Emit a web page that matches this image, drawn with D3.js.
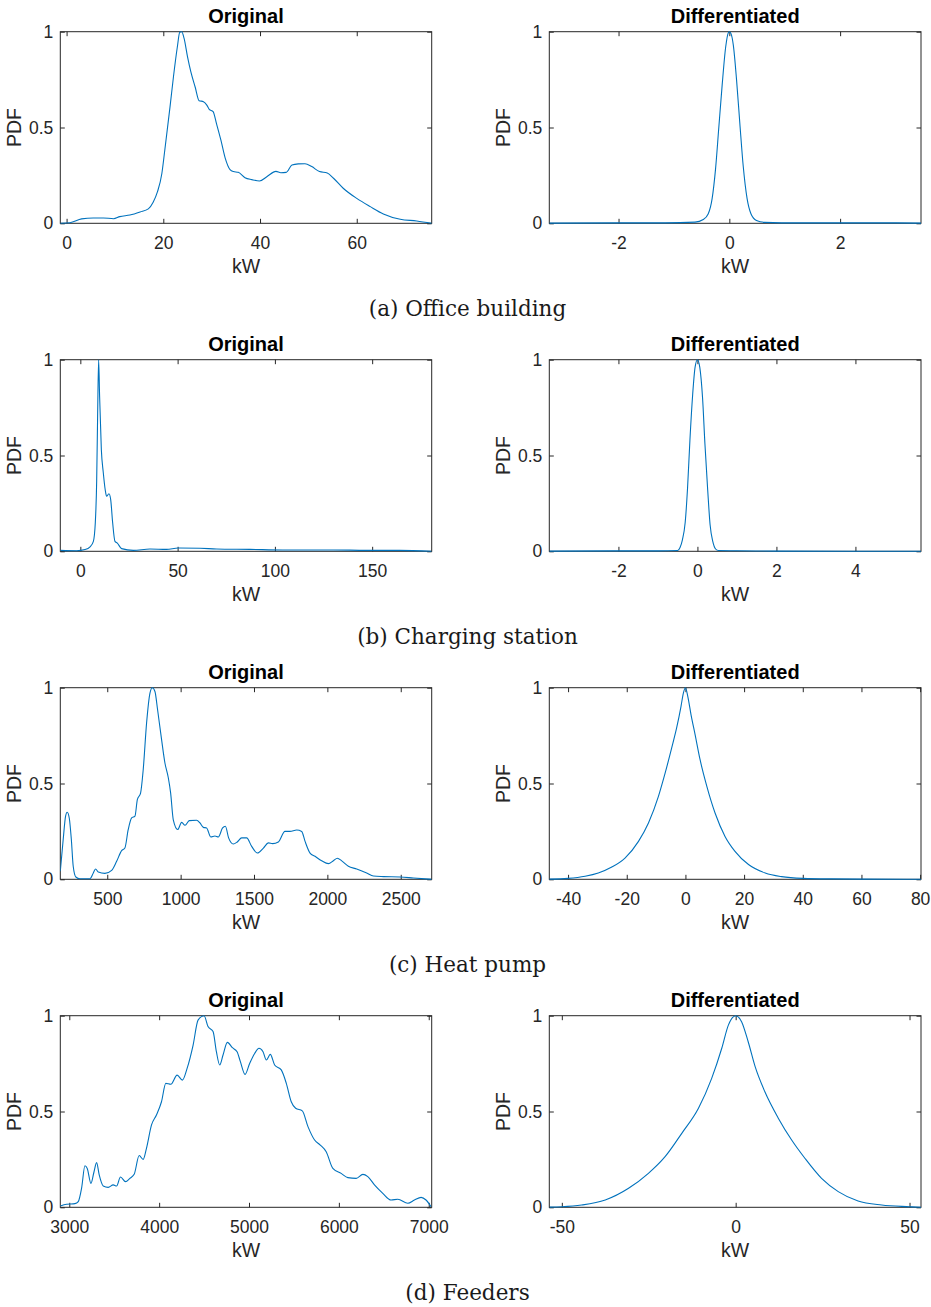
<!DOCTYPE html>
<html>
<head>
<meta charset="utf-8">
<script src="https://cdn.jsdelivr.net/npm/d3@7"></script>
<style>
  body { margin: 0; background: #fff; }
  svg { display: block; }
  .pdf-axis text { font-family: "Liberation Sans", Arial, sans-serif; font-size: 17.5px; fill: #262626; }
  .pdf-axis line { stroke: #262626; }
  .pdf-title { font-family: "Liberation Sans", Arial, sans-serif; font-size: 20px; font-weight: bold; fill: #000; }
  .pdf-label { font-family: "Liberation Sans", Arial, sans-serif; font-size: 19.5px; fill: #262626; }
  .pdf-caption { font-family: "DejaVu Serif", serif; font-size: 21.5px; fill: #1a1a1a; }
</style>
</head>
<body>
<div id="chart"></div>
<script>
// values, [kW, PDF]
const officeOriginal = [
  [-1.3, 0], [0.7, 0.003], [3.1, 0.023], [5.5, 0.028], [7.6, 0.028], [9.7, 0.024], [11, 0.035],
  [13.1, 0.043], [15.2, 0.059], [16.9, 0.075], [17.9, 0.11], [18.8, 0.165], [19.7, 0.26],
  [20.3, 0.38], [21.4, 0.61], [22.1, 0.765], [22.9, 0.92], [23.4, 0.997], [23.8, 1],
  [24.3, 0.965], [25, 0.87], [25.7, 0.79], [26.6, 0.71], [27.4, 0.64], [28.3, 0.635],
  [29, 0.617], [29.5, 0.595], [30.3, 0.583], [31, 0.52], [31.9, 0.435], [32.8, 0.34],
  [33.8, 0.28], [34.5, 0.27], [35.5, 0.266], [36.9, 0.238], [38.3, 0.228], [39.9, 0.221],
  [41.4, 0.243], [43.3, 0.271], [44.3, 0.264], [45.4, 0.266], [46.6, 0.304], [47.9, 0.31],
  [49.3, 0.311], [50.7, 0.296], [52.3, 0.27], [53.9, 0.263], [55.2, 0.235], [57.2, 0.183],
  [60, 0.13], [62.8, 0.087], [65.5, 0.049], [69, 0.021], [72.4, 0.012], [75.5, 0]
];
const officeDiff = [
  [-3.25, 0.001], [-2, 0.002], [-1.16, 0.002], [-0.62, 0.006], [-0.47, 0.02], [-0.38, 0.05],
  [-0.31, 0.13], [-0.25, 0.28], [-0.19, 0.5], [-0.13, 0.72], [-0.066, 0.92], [-0.018, 0.995],
  [0, 1], [0.03, 0.99], [0.072, 0.93], [0.13, 0.75], [0.19, 0.52], [0.25, 0.3], [0.32, 0.13],
  [0.39, 0.05], [0.49, 0.015], [0.64, 0.005], [1.25, 0.002], [2, 0.002], [3, 0.002], [3.46, 0.001]
];
const chargingOriginal = [
  [-10.3, 0.005], [-1.9, 0.003], [2.4, 0.009], [5, 0.023], [6.7, 0.052], [7.7, 0.15],
  [8.4, 0.37], [8.9, 0.72], [9.4, 1], [9.9, 0.81], [10.8, 0.53], [11.8, 0.41], [12.8, 0.32],
  [13.5, 0.287], [14.7, 0.3], [15.6, 0.27], [16.6, 0.15], [17.8, 0.052], [19, 0.043],
  [21.2, 0.014], [27.2, 0.005], [35.8, 0.012], [44.3, 0.01], [50.3, 0.017], [61.5, 0.016],
  [70, 0.012], [87.2, 0.01], [104, 0.007], [130, 0.007], [147, 0.005], [164, 0.005], [180.5, 0]
];
const chargingDiff = [
  [-3.75, 0.001], [-2, 0.002], [-1, 0.002], [-0.5, 0.004], [-0.44, 0.02], [-0.38, 0.06],
  [-0.31, 0.15], [-0.25, 0.33], [-0.19, 0.58], [-0.12, 0.82], [-0.06, 0.96], [0, 1],
  [0.06, 0.96], [0.13, 0.8], [0.19, 0.56], [0.26, 0.32], [0.32, 0.14], [0.39, 0.05],
  [0.46, 0.012], [0.53, 0.004], [1, 0.003], [2, 0.001], [5.66, 0]
];
const heatOriginal = [
  [180, 0.042], [200, 0.21], [216, 0.33], [227, 0.35], [241, 0.32], [255, 0.21], [268, 0.068],
  [286, 0.012], [314, 0.003], [382, 0.003], [405, 0.033], [420, 0.054], [439, 0.038],
  [484, 0.031], [530, 0.047], [564, 0.094], [598, 0.15], [620, 0.163], [643, 0.26],
  [666, 0.32], [689, 0.33], [705, 0.416], [727, 0.45], [745, 0.572], [768, 0.816],
  [791, 0.972], [807, 1], [825, 0.98], [843, 0.885], [870, 0.73], [893, 0.607], [916, 0.53],
  [932, 0.45], [950, 0.31], [980, 0.26], [1007, 0.297], [1030, 0.282], [1059, 0.306],
  [1109, 0.308], [1132, 0.294], [1155, 0.271], [1177, 0.268], [1205, 0.221], [1234, 0.226],
  [1257, 0.221], [1286, 0.268], [1305, 0.277], [1327, 0.216], [1359, 0.184], [1386, 0.195],
  [1416, 0.216], [1450, 0.216], [1484, 0.172], [1523, 0.137], [1564, 0.163], [1598, 0.19],
  [1627, 0.186], [1666, 0.195], [1711, 0.25], [1745, 0.25], [1791, 0.257], [1825, 0.25],
  [1848, 0.198], [1882, 0.137], [1916, 0.12], [1961, 0.097], [2007, 0.082], [2041, 0.097],
  [2068, 0.11], [2098, 0.096], [2143, 0.068], [2200, 0.054], [2268, 0.033], [2314, 0.017],
  [2382, 0.014], [2495, 0.012], [2586, 0.007], [2711, 0]
];
const heatDiff = [
  [-46.4, 0.001], [-40, 0.005], [-34.2, 0.016], [-29.7, 0.033], [-25.1, 0.064], [-20.6, 0.111],
  [-16, 0.198], [-12.6, 0.294], [-9.2, 0.433], [-6.9, 0.555], [-4.7, 0.685], [-3, 0.79],
  [-1.5, 0.903], [-0.7, 0.972], [0, 1], [0.8, 0.955], [1.9, 0.86], [3.3, 0.755], [5, 0.624],
  [7.3, 0.485], [10.1, 0.346], [13.5, 0.224], [16.9, 0.146], [21.5, 0.077], [27.2, 0.033],
  [32.8, 0.014], [40, 0.005], [49.9, 0.002], [61.3, 0.001], [80.3, 0]
];
const feederOriginal = [
  [2900, 0.007], [2970, 0.016], [3063, 0.019], [3100, 0.03], [3137, 0.1], [3174, 0.217],
  [3200, 0.203], [3241, 0.125], [3274, 0.183], [3304, 0.233], [3333, 0.169], [3378, 0.111],
  [3433, 0.104], [3489, 0.117], [3526, 0.111], [3570, 0.158], [3626, 0.134], [3674, 0.151],
  [3722, 0.172], [3778, 0.27], [3822, 0.25], [3859, 0.308], [3915, 0.43], [3970, 0.482],
  [4026, 0.551], [4074, 0.647], [4130, 0.642], [4200, 0.69], [4259, 0.664], [4311, 0.725],
  [4378, 0.847], [4433, 0.977], [4500, 1], [4544, 0.943], [4600, 0.917], [4637, 0.812],
  [4674, 0.743], [4711, 0.795], [4759, 0.861], [4815, 0.833], [4867, 0.812], [4904, 0.76],
  [4956, 0.694], [5007, 0.751], [5063, 0.803], [5111, 0.83], [5156, 0.812], [5193, 0.769],
  [5237, 0.798], [5285, 0.743], [5359, 0.717], [5415, 0.647], [5470, 0.551], [5519, 0.517],
  [5593, 0.503], [5656, 0.421], [5730, 0.351], [5793, 0.325], [5859, 0.29], [5933, 0.203],
  [6026, 0.177], [6100, 0.155], [6193, 0.151], [6267, 0.172], [6322, 0.16], [6396, 0.117],
  [6489, 0.073], [6581, 0.038], [6656, 0.042], [6767, 0.021], [6841, 0.038], [6915, 0.052],
  [6970, 0.038], [7026, 0.003]
];
const feederDiff = [
  [-53.5, 0.001], [-50, 0.003], [-44.3, 0.012], [-37.5, 0.038], [-30.8, 0.099], [-25.1, 0.177],
  [-20.3, 0.264], [-15.5, 0.386], [-10.7, 0.517], [-6.9, 0.673], [-4, 0.83], [-2.1, 0.951],
  [0, 1], [1.7, 0.969], [3.6, 0.864], [5.6, 0.734], [8.4, 0.603], [12.3, 0.464], [16.1, 0.351],
  [19.9, 0.256], [24.7, 0.151], [29.5, 0.082], [35.2, 0.033], [42, 0.012], [50, 0.003], [53.3, 0]
];

const captions = ["(a) Office building", "(b) Charging station", "(c) Heat pump", "(d) Feeders"];
const titles = ["Original", "Differentiated"];
const yTicks = [0, 0.5, 1];

// axis limits and tick values per panel
const panels = [
  { row: 0, col: 0, data: officeOriginal, xDomain: [-1.3, 75.5], xTicks: [0, 20, 40, 60] },
  { row: 0, col: 1, data: officeDiff, xDomain: [-3.25, 3.46], xTicks: [-2, 0, 2] },
  { row: 1, col: 0, data: chargingOriginal, xDomain: [-10.3, 180.6], xTicks: [0, 50, 100, 150] },
  { row: 1, col: 1, data: chargingDiff, xDomain: [-3.75, 5.66], xTicks: [-2, 0, 2, 4] },
  { row: 2, col: 0, data: heatOriginal, xDomain: [180, 2711], xTicks: [500, 1000, 1500, 2000, 2500] },
  { row: 2, col: 1, data: heatDiff, xDomain: [-46.4, 80.3], xTicks: [-40, -20, 0, 20, 40, 60, 80] },
  { row: 3, col: 0, data: feederOriginal, xDomain: [2900, 7033], xTicks: [3000, 4000, 5000, 6000, 7000] },
  { row: 3, col: 1, data: feederDiff, xDomain: [-53.6, 53.3], xTicks: [-50, 0, 50] },
];

const width = 931;
const height = 1307;
const colLeft = [60.3, 549.3];
const colRight = [431.7, 921];
const rowTop = 31.7;
const rowStep = 328;
const plotHeight = 191.6;
const tickLen = 4.5;
const lineColor = "#0072bd";

const svg = d3.select("#chart").append("svg")
  .attr("width", width)
  .attr("height", height)
  .attr("viewBox", [0, 0, width, height]);

panels.forEach((p, i) => {
  const x0 = colLeft[p.col];
  const x1 = colRight[p.col];
  const y0 = rowTop + p.row * rowStep;
  const y1 = y0 + plotHeight;

  const x = d3.scaleLinear().domain(p.xDomain).range([x0, x1]);
  const y = d3.scaleLinear().domain([0, 1]).range([y1, y0]);
  const fmt = (d) => String(d);

  const g = svg.append("g").attr("class", "pdf-panel");

  g.append("clipPath")
    .attr("id", `clip-${i}`)
    .append("rect")
    .attr("x", x0)
    .attr("y", y0 - 1)
    .attr("width", x1 - x0)
    .attr("height", y1 - y0 + 2);

  // ticks on all four sides, pointing inwards
  g.append("g")
    .attr("class", "pdf-axis")
    .attr("transform", `translate(0,${y1})`)
    .call(d3.axisBottom(x).tickValues(p.xTicks).tickFormat(fmt).tickSizeInner(-tickLen).tickSizeOuter(0).tickPadding(13))
    .call((a) => a.select(".domain").remove());
  g.append("g")
    .attr("class", "pdf-axis")
    .attr("transform", `translate(0,${y0})`)
    .call(d3.axisTop(x).tickValues(p.xTicks).tickFormat("").tickSizeInner(-tickLen).tickSizeOuter(0))
    .call((a) => a.select(".domain").remove());
  g.append("g")
    .attr("class", "pdf-axis")
    .attr("transform", `translate(${x0},0)`)
    .call(d3.axisLeft(y).tickValues(yTicks).tickFormat(fmt).tickSizeInner(-tickLen).tickSizeOuter(0).tickPadding(7))
    .call((a) => a.select(".domain").remove());
  g.append("g")
    .attr("class", "pdf-axis")
    .attr("transform", `translate(${x1},0)`)
    .call(d3.axisRight(y).tickValues(yTicks).tickFormat("").tickSizeInner(-tickLen).tickSizeOuter(0))
    .call((a) => a.select(".domain").remove());

  g.append("rect")
    .attr("x", x0)
    .attr("y", y0)
    .attr("width", x1 - x0)
    .attr("height", y1 - y0)
    .attr("fill", "none")
    .attr("stroke", "#262626")
    .attr("stroke-width", 1);

  g.append("path")
    .datum(p.data)
    .attr("clip-path", `url(#clip-${i})`)
    .attr("fill", "none")
    .attr("stroke", lineColor)
    .attr("stroke-width", 1.1)
    .attr("d", d3.line().x((d) => x(d[0])).y((d) => y(d[1])).curve(d3.curveMonotoneX));

  g.append("text")
    .attr("class", "pdf-title")
    .attr("x", (x0 + x1) / 2)
    .attr("y", y0 - 8.4)
    .attr("text-anchor", "middle")
    .text(titles[p.col]);

  g.append("text")
    .attr("class", "pdf-label")
    .attr("x", (x0 + x1) / 2)
    .attr("y", y1 + 50)
    .attr("text-anchor", "middle")
    .text("kW");

  g.append("text")
    .attr("class", "pdf-label")
    .attr("transform", `translate(${x0 - 39.6},${(y0 + y1) / 2}) rotate(-90)`)
    .attr("text-anchor", "middle")
    .text("PDF");
});

svg.selectAll(".pdf-caption")
  .data(captions)
  .join("text")
  .attr("class", "pdf-caption")
  .attr("x", 467.5)
  .attr("y", (d, i) => 316 + i * rowStep)
  .attr("text-anchor", "middle")
  .text((d) => d);
</script>
</body>
</html>
